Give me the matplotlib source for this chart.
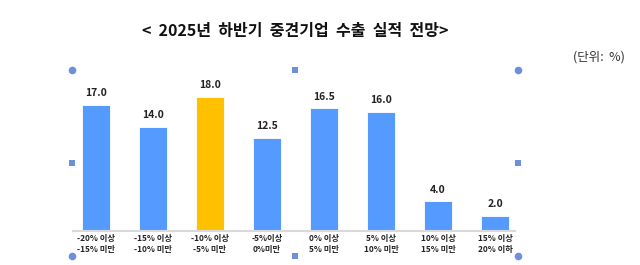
import matplotlib
matplotlib.use("Agg")
import matplotlib.pyplot as plt

plt.rcParams['font.family'] = ['Noto Sans CJK KR', 'DejaVu Sans']

categories = ['-20% 이상\n-15% 미만', '-15% 이상\n-10% 미만', '-10% 이상\n-5% 미만',
              '-5%이상\n0%미만', '0% 이상\n5% 미만', '5% 이상\n10% 미만',
              '10% 이상\n15% 미만', '15% 이상\n20% 이하']
values = [17.0, 14.0, 18.0, 12.5, 16.5, 16.0, 4.0, 2.0]
highlight = 2

BLUE = '#559BFF'
YELLOW = '#FFC000'
HANDLE = '#6F8FDD'

W, H = 640, 265
fig = plt.figure(figsize=(W / 100, H / 100), dpi=100)

left, right, base, top = 73, 515, 231, 60
ax = fig.add_axes([left / W, 1 - base / H, (right - left) / W, (base - top) / H])

x = list(range(len(values)))
colors = [YELLOW if i == highlight else BLUE for i in x]
bars = ax.bar(x, values, width=0.49, color=colors, edgecolor='white', linewidth=0.6)

for b, v in zip(bars, values):
    ax.text(b.get_x() + b.get_width() / 2, v + 0.9, f'{v:.1f}', ha='center', va='bottom',
            fontsize=7.5, fontweight='bold', color='#222222')

ax.set_xlim(-0.40, 7.35)
ax.set_ylim(0, 23)
ax.set_xticks(x)
ax.set_xticklabels(categories, fontsize=6, linespacing=1.25, fontweight='bold', color='#222222')
ax.tick_params(axis='x', length=0, pad=2)
ax.set_yticks([])
for s in ['top', 'left', 'right']:
    ax.spines[s].set_visible(False)
ax.spines['bottom'].set_color('#D9D9D9')
ax.spines['bottom'].set_linewidth(1.5)

fig.text(295 / W, 1 - 31 / H, '<  2025년  하반기  중견기업  수출  실적  전망>', ha='center', va='center',
         fontsize=11.5, fontweight='bold', color='#111111')
fig.text(625 / W, 1 - 57 / H, '(단위:  %)', ha='right', va='center', fontsize=9, color='#333333')

# selection handles
hx = [72, 295, 518]
hy = [70, 163, 256]
for i, px in enumerate(hx):
    for j, py in enumerate(hy):
        if i == 1 and j == 1:
            continue
        corner = i != 1 and j != 1
        fig.add_artist(plt.Line2D([px / W], [1 - py / H], marker='o' if corner else 's',
                                  markersize=5.5 if corner else 5, color=HANDLE,
                                  markeredgewidth=0, transform=fig.transFigure))

fig.savefig('out.png', dpi=100)
